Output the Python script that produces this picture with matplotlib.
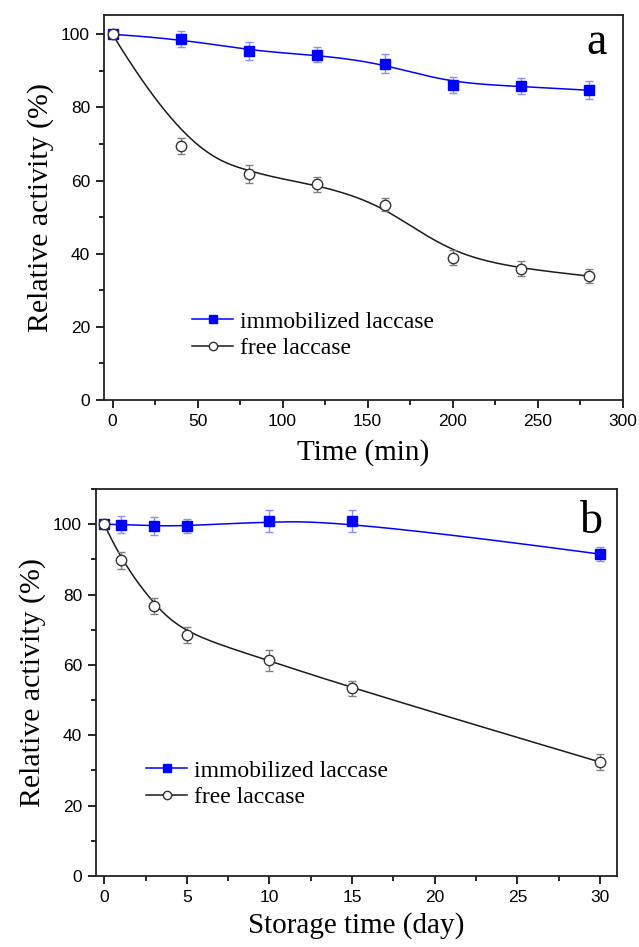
import numpy as np
import matplotlib
matplotlib.use('Agg')
import matplotlib.pyplot as plt
from matplotlib.ticker import MultipleLocator

# Datos panel a (tiempo en min)
t_min = [0, 40, 80, 120, 160, 200, 240, 280]
imm_a = [100, 98.8, 95.4, 94.4, 92.0, 86.2, 85.8, 84.7]
imm_a_err = [0, 2.2, 2.5, 2.0, 2.5, 2.2, 2.2, 2.4]
free_a = [100, 69.4, 61.8, 59.0, 53.4, 38.9, 35.9, 33.9]
free_a_err = [0, 2.2, 2.4, 2.0, 1.8, 2.0, 2.0, 2.0]

# Datos panel b (tiempo de almacenamiento en dias)
t_day = [0, 1, 3, 5, 10, 15, 30]
imm_b = [100, 99.9, 99.5, 99.5, 100.8, 100.9, 91.5]
imm_b_err = [0, 2.3, 2.6, 2.0, 3.1, 3.2, 2.1]
free_b = [100, 89.8, 76.8, 68.5, 61.3, 53.3, 32.4]
free_b_err = [0, 2.4, 2.2, 2.4, 2.9, 2.1, 2.2]

serif = 'Liberation Serif'
sans = 'Liberation Sans'
blue = '#0000ff'


def bspline(xs, ys, k=3, num=400):
    # B-spline sujeto a los extremos, usando los puntos como puntos de control
    P = np.column_stack([xs, ys]).astype(float)
    n = len(P)
    inner = np.linspace(0, 1, n - k + 1)
    t = np.concatenate([[0] * k, inner, [1] * k])
    u = np.linspace(0, 1 - 1e-9, num)

    def N(i, p, u):
        if p == 0:
            return ((t[i] <= u) & (u < t[i + 1])).astype(float)
        a = 0 if t[i + p] == t[i] else (u - t[i]) / (t[i + p] - t[i])
        b = 0 if t[i + p + 1] == t[i + 1] else (t[i + p + 1] - u) / (t[i + p + 1] - t[i + 1])
        return a * N(i, p - 1, u) + b * N(i + 1, p - 1, u)

    B = np.array([N(i, k, u) for i in range(n)])
    curve = B.T @ P
    curve = np.vstack([curve, P[-1]])
    return curve[:, 0], curve[:, 1]


fig = plt.figure(figsize=(6.39, 9.47), dpi=100)
W, H = 639, 947
ax1 = fig.add_axes([104 / W, 1 - 400 / H, (622.7 - 104) / W, (400 - 15.3) / H])
ax2 = fig.add_axes([96 / W, 1 - 876 / H, (617.3 - 96) / W, (876 - 489) / H])


def draw(ax, x, imm, imm_err, free, free_err):
    sx, sy = bspline(x, imm)
    ax.plot(sx, sy, color=blue, lw=1.1, zorder=2)
    ax.errorbar(x, imm, yerr=imm_err, fmt='none', ecolor='#8c8cff', elinewidth=1,
                capsize=3, capthick=1, zorder=3)
    ax.plot(x, imm, 's', color=blue, ms=7, zorder=4)
    sx, sy = bspline(x, free)
    ax.plot(sx, sy, color='#1a1a1a', lw=1.1, zorder=2)
    ax.errorbar(x, free, yerr=free_err, fmt='none', ecolor='#808080', elinewidth=1,
                capsize=3, capthick=1, zorder=3)
    ax.plot(x, free, 'o', mfc='white', mec='#333333', mew=1, ms=7.5, zorder=4)
    # handles para la leyenda
    h1, = ax.plot([], [], '-s', color=blue, ms=5.5, lw=1.1)
    h2, = ax.plot([], [], '-o', color='#1a1a1a', mfc='white', mec='#333333', ms=6, lw=1.1)
    return h1, h2


h1, h2 = draw(ax1, t_min, imm_a, imm_a_err, free_a, free_a_err)
ax1.set_xlim(-5, 300)
ax1.set_ylim(0, 105.2)
ax1.xaxis.set_major_locator(MultipleLocator(50))
ax1.xaxis.set_minor_locator(MultipleLocator(25))
ax1.set_xlabel('Time (min)', fontfamily=serif, fontsize=21, labelpad=7)
ax1.text(0.969, 0.8986, 'a', transform=ax1.transAxes, ha='right', va='baseline',
         fontfamily=serif, fontsize=33)
fig.legend([h1, h2], ['immobilized laccase', 'free laccase'], loc='center left',
           bbox_to_anchor=(192 / W, 1 - 335 / H), frameon=False, borderpad=0,
           borderaxespad=0, handlelength=1.75, handletextpad=0.3, labelspacing=0.2,
           prop={'family': serif, 'size': 17})

g1, g2 = draw(ax2, t_day, imm_b, imm_b_err, free_b, free_b_err)
ax2.set_xlim(-0.5, 31.05)
ax2.set_ylim(0, 110)
ax2.xaxis.set_major_locator(MultipleLocator(5))
ax2.xaxis.set_minor_locator(MultipleLocator(2.5))
ax2.set_xlabel('Storage time (day)', fontfamily=serif, fontsize=21, labelpad=5)
ax2.text(0.973, 0.8855, 'b', transform=ax2.transAxes, ha='right', va='baseline',
         fontfamily=serif, fontsize=33)
fig.legend([g1, g2], ['immobilized laccase', 'free laccase'], loc='center left',
           bbox_to_anchor=(146 / W, 1 - 784 / H), frameon=False, borderpad=0,
           borderaxespad=0, handlelength=1.75, handletextpad=0.3, labelspacing=0.2,
           prop={'family': serif, 'size': 17})

for ax in (ax1, ax2):
    ax.yaxis.set_major_locator(MultipleLocator(20))
    ax.yaxis.set_minor_locator(MultipleLocator(10))
    ax.set_ylabel('Relative activity (%)', fontfamily=serif, fontsize=21.5, labelpad=5)
    ax.tick_params(which='major', direction='out', length=6, width=1.2,
                   labelsize=12.5, pad=4)
    ax.tick_params(which='minor', direction='out', length=3.5, width=1.2)
    for lab in ax.get_xticklabels() + ax.get_yticklabels():
        lab.set_fontfamily(sans)
    for sp in ax.spines.values():
        sp.set_linewidth(1.3)
        sp.set_color('#222222')

fig.savefig('out.png', dpi=100)
